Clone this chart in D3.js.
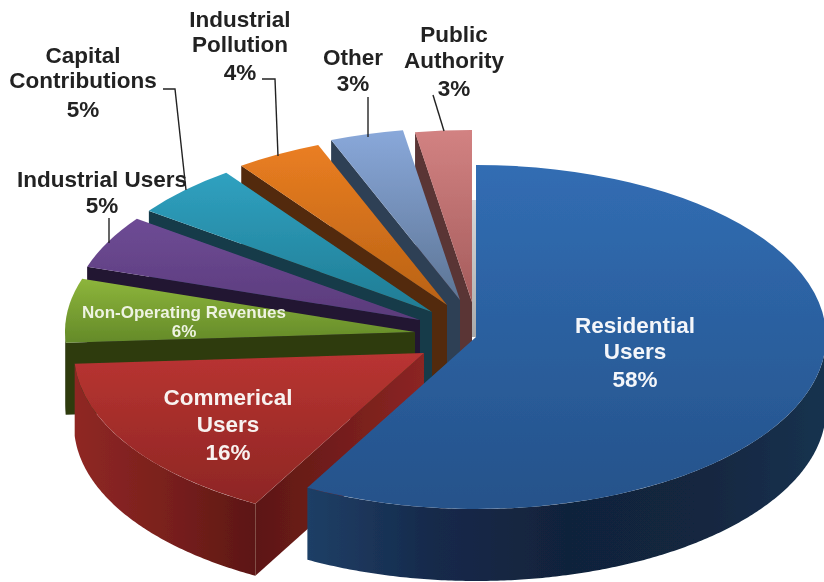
<!DOCTYPE html>
<html>
<head>
<meta charset="utf-8">
<script src="https://cdn.jsdelivr.net/npm/d3@7"></script>
<style>
  html, body { margin: 0; padding: 0; background: #fff; }
  svg { display: block; }
  text { font-family: "Liberation Sans", Arial, sans-serif; font-weight: bold; text-anchor: middle; }
</style>
</head>
<body>
<svg id="chart" width="824" height="582"></svg>
<script>
// slice data, clockwise from 12 o'clock
const categories = ["Residential\nUsers", "Commerical\nUsers", "Non-Operating Revenues", "Industrial Users",
                    "Capital\nContributions", "Industrial\nPollution", "Other", "Public\nAuthority"];
const shares = [58, 16, 6, 5, 5, 4, 3.4, 2.6];

// look of each slice: top gradient, wall colour
const topColors = [["#316db3", "#25528a"], ["#b93431", "#8d2624"], ["#8db53b", "#648a29"], ["#6e4b95", "#5a3b7b"],
                   ["#30a1c0", "#1f7c94"], ["#ea7e22", "#b96214"], ["#89a8da", "#5d7595"], ["#d28282", "#a55c5c"]];
const wallColors = ["#1b3a60", "#5e1815", "#2d3a10", "#241533", "#123a48", "#52290a", "#2f3f55", "#5a3434"];

// exploded position of each slice on the page
const apexes = [[476, 337], [424, 353], [415, 332], [420, 320], [432, 312], [447, 305], [460, 300], [472, 302]];
const rx = 350, ry = 172, depth = 72;
// the back slices' cut faces run on down behind the front ones
const cutDepth = [72, 72, 72, 110, 110, 110, 110, 110];

// label placement: centre x, baseline of each line, leader polyline
const labelX = [635, 228, 184, 102, 83, 240, 353, 454];
const labelY = [[333, 359, 387], [405, 432, 460], [318, 337], [187, 213], [63, 88, 117], [27, 52, 80], [65, 91], [42, 68, 96]];
const labelSize = [22.5, 22.5, 17, 22.5, 22.5, 22.5, 22.5, 22.5];
const labelFill = ["#f4f6fa", "#f8f2f0", "#eef3e2", "#222", "#222", "#222", "#222", "#222"];
const leaders = [null, null, null,
  [[109, 218], [109, 243]],
  [[163, 89], [175, 89], [186, 190]],
  [[262, 79], [275, 79], [278, 156]],
  [[368, 97], [368, 137]],
  [[433, 95], [444, 131]]];

const svg = d3.select("#chart");
const defs = svg.append("defs");

defs.append("filter")
    .attr("id", "soft")
    .attr("filterUnits", "userSpaceOnUse")
    .attr("x", 0).attr("y", 0).attr("width", 824).attr("height", 582)
  .append("feGaussianBlur")
    .attr("stdDeviation", 0.7);

function gradient(id, stops, horizontal) {
  const lg = defs.append("linearGradient").attr("id", id)
    .attr("x1", 0).attr("y1", 0)
    .attr("x2", horizontal ? 1 : 0).attr("y2", horizontal ? 0 : 1);
  stops.forEach((c, i) => lg.append("stop")
    .attr("offset", i / (stops.length - 1))
    .attr("stop-color", c));
}

topColors.forEach((c, i) => gradient(`top${i}`, c, false));
gradient("wallBlue", ["#1f3f66", "#15294a", "#11233b", "#12263f", "#16324f"], true);
gradient("wallRed", ["#8f2724", "#7a201d", "#5c1714"], true);
gradient("rayRed", ["#5c1714", "#8c2523"], true);
gradient("greyStrip", ["#d8d8d8", "#a9a9a9"], false);

const slices = d3.pie().sort(null).value(d => d).startAngle(0).endAngle(2 * Math.PI)(shares);
const root = svg.append("g").attr("filter", "url(#soft)");

const px = (i, a) => apexes[i][0] + rx * Math.sin(a);
const py = (i, a) => apexes[i][1] - ry * Math.cos(a);
const polygon = d3.line();
const unitArc = d3.arc().innerRadius(0).outerRadius(1);

// grey sliver behind the gap between the first and last slice
root.append("rect")
  .attr("x", apexes[7][0])
  .attr("y", 200)
  .attr("width", apexes[0][0] - apexes[7][0] + 1)
  .attr("height", apexes[0][1] - 200)
  .attr("fill", "url(#greyStrip)");

// far slices first so that the nearer ones cover them
d3.range(slices.length).reverse().forEach(i => {
  const s = slices[i];
  const [ax, ay] = apexes[i];
  const g = root.append("g");

  // cut face along the starting edge
  const ex = px(i, s.startAngle), ey = py(i, s.startAngle);
  g.append("path")
    .attr("d", polygon([[ax, ay], [ex, ey], [ex, ey + cutDepth[i]], [ax, ay + cutDepth[i]]]) + "Z")
    .attr("fill", i === 1 ? "url(#rayRed)" : wallColors[i]);

  // rim, only where it faces the viewer
  const a0 = Math.max(s.startAngle, Math.PI / 2), a1 = Math.min(s.endAngle, 1.5 * Math.PI);
  if (a1 > a0) {
    const steps = d3.range(a0, a1, 0.01).concat([a1]);
    g.append("path")
      .attr("d", d3.area()
        .x(a => px(i, a))
        .y0(a => py(i, a))
        .y1(a => py(i, a) + depth)(steps))
      .attr("fill", i === 0 ? "url(#wallBlue)" : i === 1 ? "url(#wallRed)" : wallColors[i]);
  }

  // top face
  g.append("path")
    .attr("transform", `translate(${ax},${ay}) scale(${rx},${ry})`)
    .attr("d", unitArc(s))
    .attr("fill", `url(#top${i})`);
});

// leader lines
leaders.forEach(pts => {
  if (!pts) return;
  root.append("path")
    .attr("d", polygon(pts))
    .attr("fill", "none")
    .attr("stroke", "#222")
    .attr("stroke-width", 1.4);
});

// labels: name lines then the rounded share
const pct = d3.format(".0f");
categories.forEach((name, i) => {
  const lines = name.split("\n").concat(pct(shares[i]) + "%");
  lines.forEach((line, j) => {
    root.append("text")
      .attr("x", labelX[i])
      .attr("y", labelY[i][j])
      .attr("font-size", labelSize[i])
      .attr("fill", labelFill[i])
      .text(line);
  });
});
</script>
</body>
</html>
